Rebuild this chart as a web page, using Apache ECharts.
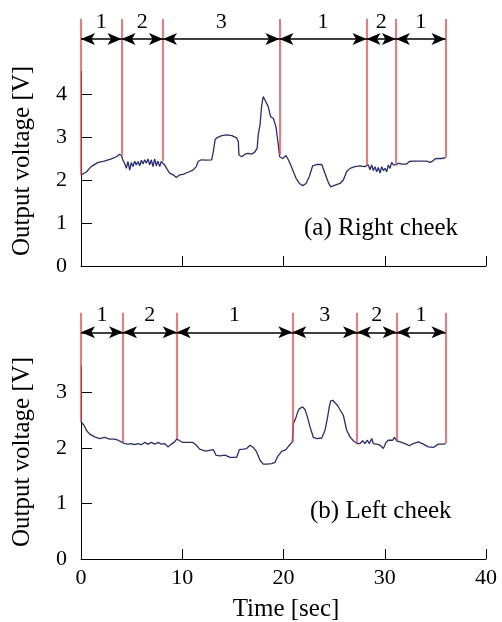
<!DOCTYPE html>
<html><head><meta charset="utf-8">
<script src="https://cdn.jsdelivr.net/npm/echarts@6/dist/echarts.min.js"></script>
<style>html,body{margin:0;padding:0;background:#fff}#c{width:502px;height:622px}</style>
</head><body><div id="c"></div>
<script>
// ---- data ----
const timeA = [0,0.5,1.0,1.7,2.3,3.0,3.5,3.8,4.0,4.15,4.31,4.48,4.64,4.81,4.97,5.14,5.30,5.46,5.63,5.79,5.96,6.12,6.29,6.45,6.62,6.78,6.95,7.11,7.28,7.44,7.60,7.77,7.93,8.10,8.26,8.53,8.76,9.09,9.42,9.75,10.07,10.57,11.06,11.39,11.56,11.88,12.4,12.9,13.07,13.24,13.4,13.57,13.9,14.4,14.9,15.37,15.54,15.6,15.87,16.2,16.5,16.86,17.2,17.4,17.5,17.68,17.85,18.0,18.17,18.5,18.73,19.0,19.25,19.49,19.62,19.92,20.25,20.48,20.71,20.97,21.24,21.57,21.9,22.23,22.55,22.88,23.28,23.78,24.1,24.43,24.66,25.1,25.58,25.91,26.24,26.57,27.06,27.55,28.05,28.2,28.38,28.54,28.71,28.87,29.04,29.2,29.37,29.53,29.7,29.86,30.02,30.19,30.35,30.52,30.68,30.85,31.01,31.11,31.34,31.67,32.16,32.43,32.82,33.48,34.14,34.47,34.73,34.96,35.29,35.62,36.0];
const voltA = [2.12,2.18,2.31,2.41,2.44,2.49,2.54,2.60,2.57,2.45,2.39,2.27,2.43,2.23,2.41,2.31,2.44,2.35,2.43,2.33,2.46,2.37,2.47,2.39,2.49,2.35,2.47,2.31,2.49,2.33,2.44,2.31,2.43,2.44,2.35,2.24,2.16,2.12,2.06,2.12,2.13,2.18,2.23,2.31,2.43,2.47,2.46,2.47,2.66,2.93,2.98,2.95,3.03,3.05,3.03,2.98,2.89,2.58,2.54,2.60,2.62,2.60,2.66,2.74,3.05,3.28,3.74,3.94,3.86,3.70,3.47,3.43,3.24,2.81,2.54,2.50,2.57,2.47,2.35,2.20,2.04,1.92,1.87,1.92,2.08,2.33,2.36,2.36,2.15,1.94,1.84,1.88,1.92,2.00,2.20,2.27,2.31,2.33,2.31,2.33,2.35,2.24,2.35,2.22,2.31,2.19,2.29,2.16,2.31,2.22,2.27,2.19,2.35,2.27,2.41,2.35,2.31,2.35,2.39,2.37,2.37,2.43,2.44,2.44,2.44,2.41,2.44,2.49,2.50,2.50,2.52];
const timeB = [0,0.3,0.53,0.86,1.35,1.84,2.34,2.83,3.33,3.65,3.98,4.15,4.31,4.64,4.97,5.3,5.63,5.96,6.29,6.62,6.95,7.28,7.6,7.93,8.26,8.59,8.92,9.25,9.45,9.75,10.07,10.57,11.06,11.39,11.72,12.21,12.41,13.07,13.33,13.73,14.22,14.72,15.37,15.64,16.03,16.36,16.69,17.02,17.35,17.68,18.0,18.34,18.83,19.16,19.39,19.82,20.25,20.58,20.87,20.97,21.2,21.4,21.57,21.73,21.9,22.13,22.36,22.62,22.95,23.28,23.78,24.1,24.33,24.53,24.66,24.86,25.1,25.32,25.58,25.91,26.24,26.57,26.9,27.26,27.55,27.82,28.05,28.28,28.48,28.71,28.87,29.2,29.53,29.86,30.12,30.35,30.52,30.78,30.95,31.18,31.51,32.0,32.43,32.82,33.32,33.81,34.3,34.8,35.29,35.78,36.0];
const voltB = [2.47,2.41,2.32,2.25,2.20,2.17,2.19,2.16,2.16,2.14,2.11,2.10,2.08,2.07,2.08,2.06,2.08,2.06,2.10,2.07,2.10,2.07,2.10,2.07,2.08,2.02,2.07,2.11,2.16,2.13,2.10,2.10,2.10,2.05,1.98,1.95,1.95,1.97,1.87,1.86,1.87,1.83,1.83,1.97,1.98,1.99,2.05,2.01,1.93,1.78,1.71,1.71,1.72,1.74,1.84,1.94,1.97,2.05,2.11,2.44,2.53,2.65,2.71,2.69,2.74,2.69,2.56,2.38,2.19,2.17,2.18,2.32,2.53,2.75,2.85,2.86,2.81,2.77,2.69,2.59,2.32,2.20,2.13,2.08,2.08,2.13,2.08,2.14,2.08,2.17,2.08,2.07,2.05,1.99,2.10,2.14,2.17,2.14,2.19,2.13,2.11,2.08,2.04,2.08,2.11,2.07,2.02,2.01,2.07,2.07,2.08];
const boundsA = [0, 4.0, 8.1, 19.6, 28.2, 31.1, 36.0];
const phasesA = ['1', '2', '3', '1', '2', '1'];
const boundsB = [0, 4.15, 9.45, 20.87, 27.26, 31.18, 36.0];
const phasesB = ['1', '2', '1', '3', '2', '1'];
const yTicksA = [0, 1, 2, 3, 4];
const yTicksB = [0, 1, 2, 3];
const xTicks = [0, 10, 20, 30, 40];
const panelA = '(a) Right cheek';
const panelB = '(b) Left cheek';
const yName = 'Output voltage [V]';
const xName = 'Time [sec]';

// ---- styling / layout ----
const FONT = 'Liberation Serif';
const CURVE = '#292c7a';
const RED = '#ef4a4a';

function valueAt(ts, vs, t) {
  if (t <= ts[0]) return vs[0];
  for (let i = 0; i < ts.length - 1; i++) {
    if (t >= ts[i] && t <= ts[i + 1]) {
      const f = (t - ts[i]) / (ts[i + 1] - ts[i] || 1);
      return vs[i] + f * (vs[i + 1] - vs[i]);
    }
  }
  return vs[vs.length - 1];
}

// per-panel axis geometry (value units)
const geo = [
  { top: 19, height: 247, max: 5.744, axisTop: 4.535, arrowY: 5.279 },
  { top: 312.7, height: 246.3, max: 4.438, axisTop: 3.477, arrowY: 4.085 }
];

const panels = [
  { ts: timeA, vs: voltA, bounds: boundsA, phases: phasesA, yTicks: yTicksA, showX: false },
  { ts: timeB, vs: voltB, bounds: boundsB, phases: phasesB, yTicks: yTicksB, showX: true }
];

const grids = [], xAxes = [], yAxes = [], series = [];
panels.forEach((p, i) => {
  const g = geo[i];
  grids.push({ left: 81, right: 16, top: g.top, height: g.height });
  xAxes.push({
    type: 'value', gridIndex: i, min: 0, max: 40, interval: 10,
    axisLine: { show: true, onZero: false, lineStyle: { color: '#000', width: 1 } },
    axisTick: { show: true, inside: true, length: 10, customValues: xTicks, lineStyle: { color: '#000', width: 1 } },
    axisLabel: { show: p.showX, customValues: xTicks, color: '#000', fontSize: 22, fontFamily: FONT, margin: 8 },
    splitLine: { show: false }
  });
  yAxes.push({
    type: 'value', gridIndex: i, min: 0, max: g.max,
    axisLine: { show: false },
    axisTick: { show: true, inside: true, length: 11, customValues: p.yTicks, lineStyle: { color: '#000', width: 1 } },
    axisLabel: { show: true, customValues: p.yTicks, color: '#000', fontSize: 22, fontFamily: FONT, margin: 14 },
    splitLine: { show: false }
  });
  // y axis line drawn only up to the top of the value range
  series.push({
    type: 'line', xAxisIndex: i, yAxisIndex: i, data: [], silent: true, z: 1,
    markLine: {
      silent: true, animation: false, symbol: ['none', 'none'],
      lineStyle: { color: '#000', width: 1, type: 'solid' }, label: { show: false },
      data: [[{ coord: [0, 0] }, { coord: [0, g.axisTop] }]]
    }
  });
  // red phase boundaries
  series.push({
    type: 'line', xAxisIndex: i, yAxisIndex: i, data: [], silent: true, z: 2,
    markLine: {
      silent: true, animation: false, symbol: ['none', 'none'],
      lineStyle: { color: RED, width: 1.5, type: 'solid' }, label: { show: false },
      data: p.bounds.map(b => [{ coord: [b, valueAt(p.ts, p.vs, b)] }, { coord: [b, g.max] }])
    }
  });
  // arrows with phase numbers
  series.push({
    type: 'line', xAxisIndex: i, yAxisIndex: i, data: [], silent: true, z: 3,
    markLine: {
      silent: true, animation: false, symbol: ['arrow', 'arrow'], symbolSize: 12,
      lineStyle: { color: '#000', width: 1.5, type: 'solid' },
      label: { show: true, position: 'insideMiddleTop', distance: 6, formatter: '{b}', color: '#000', fontSize: 22, fontFamily: FONT },
      data: p.phases.map((ph, k) => [
        { name: ph, coord: [p.bounds[k], g.arrowY], symbolSize: [9, 14] },
        { coord: [p.bounds[k + 1], g.arrowY], symbolSize: [9, 14] }
      ])
    }
  });
  // the signal
  series.push({
    type: 'line', xAxisIndex: i, yAxisIndex: i, z: 4,
    data: p.ts.map((t, k) => [t, p.vs[k]]),
    showSymbol: false, symbol: 'none', smooth: false,
    lineStyle: { color: CURVE, width: 1.3 }
  });
});

const chart = echarts.init(document.getElementById('c'), null, { renderer: 'canvas' });
chart.setOption({
  animation: false,
  backgroundColor: '#fff',
  grid: grids, xAxis: xAxes, yAxis: yAxes, series: series,
  graphic: [
    { type: 'text', x: 304, y: 228, style: { text: panelA, font: '25px "Liberation Serif"', fill: '#000', align: 'left', verticalAlign: 'middle' } },
    { type: 'text', x: 310, y: 511, style: { text: panelB, font: '25px "Liberation Serif"', fill: '#000', align: 'left', verticalAlign: 'middle' } },
    { type: 'text', x: 22, y: 161, rotation: Math.PI / 2, style: { text: yName, font: '25px "Liberation Serif"', fill: '#000', align: 'center', verticalAlign: 'middle' } },
    { type: 'text', x: 22, y: 452, rotation: Math.PI / 2, style: { text: yName, font: '25px "Liberation Serif"', fill: '#000', align: 'center', verticalAlign: 'middle' } },
    { type: 'text', x: 286, y: 609, style: { text: xName, font: '25px "Liberation Serif"', fill: '#000', align: 'center', verticalAlign: 'middle' } }
  ]
});
</script>
</body></html>
